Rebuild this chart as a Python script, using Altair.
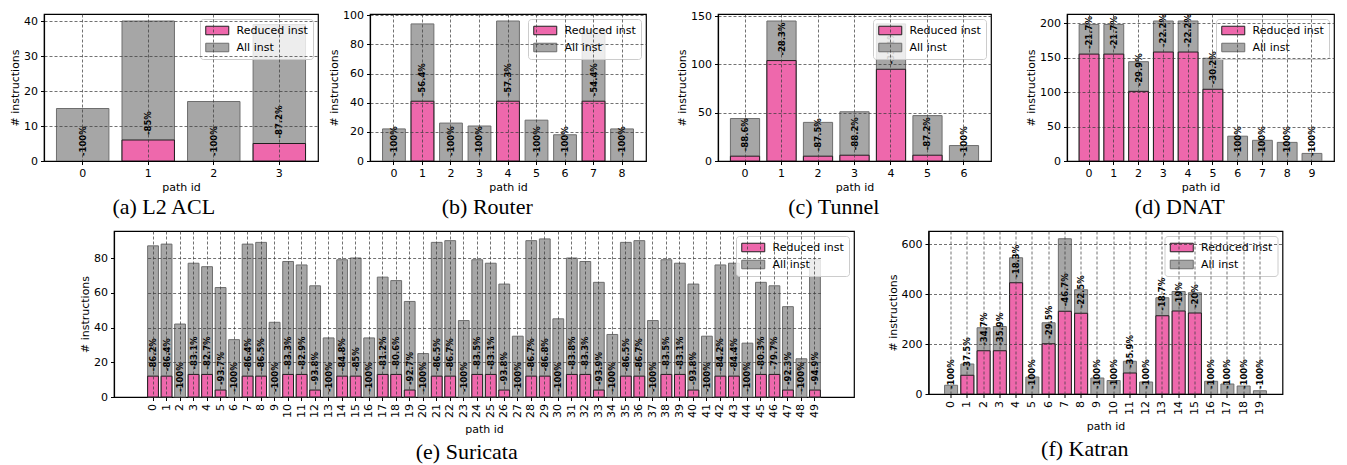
import altair as alt
import pandas as pd

# ---------------- data ----------------
captions = ["(a) L2 ACL", "(b) Router", "(c) Tunnel", "(d) DNAT", "(e) Suricata", "(f) Katran"]
series_names = ["Reduced inst", "All inst"]

l2acl_all = [15, 40, 17, 39]
l2acl_reduced = [0, 6, 0, 5]

router_all = [22, 94, 26, 24, 96, 28, 18, 90, 22]
router_reduced = [0, 41, 0, 0, 41, 0, 0, 41, 0]

tunnel_all = [44, 145, 40, 51, 142, 47, 16]
tunnel_reduced = [5, 104, 5, 6, 95, 6, 0]

dnat_all = [198, 198, 144, 203, 203, 149, 36, 30, 27, 11]
dnat_reduced = [155, 155, 101, 158, 158, 104, 0, 0, 0, 0]

suricata_all = [87, 88, 42, 77, 75, 63, 33, 88, 89, 43,
                78, 76, 64, 34, 79, 80, 34, 69, 67, 55,
                25, 89, 90, 44, 79, 77, 65, 35, 90, 91,
                45, 80, 78, 66, 36, 89, 90, 44, 79, 77,
                65, 35, 76, 77, 31, 66, 64, 52, 22, 79]
suricata_reduced = [12, 12, 0, 13, 13, 4, 0, 12, 12, 0,
                    13, 13, 4, 0, 12, 12, 0, 13, 13, 4,
                    0, 12, 12, 0, 13, 13, 4, 0, 12, 12,
                    0, 13, 13, 4, 0, 12, 12, 0, 13, 13,
                    4, 0, 12, 12, 0, 13, 13, 4, 0, 4]

katran_all = [35, 120, 265, 270, 545, 68, 285, 621, 417, 64,
              54, 131, 48, 385, 410, 405, 51, 40, 32, 13]
katran_reduced = [0, 75, 173, 173, 445, 0, 201, 331, 323, 0,
                  0, 84, 0, 313, 332, 324, 0, 0, 0, 0]

l2acl_yticks = [0, 10, 20, 30, 40]
router_yticks = [0, 20, 40, 60, 80, 100]
tunnel_yticks = [0, 50, 100, 150]
dnat_yticks = [0, 50, 100, 150, 200]
suricata_yticks = [0, 20, 40, 60, 80]
katran_yticks = [0, 200, 400, 600]

# ---------------- style ----------------
PINK = "#EE68AC"
GREY = "#A6A6A6"
FONT = "DejaVu Sans"
BAR_FRACTION = 0.8


def pct_label(a, r):
    p = round((a - r) / a * 100, 1)
    return f"-{int(p)}%" if p == int(p) else f"-{p:.1f}%"


def panel(all_v, red_v, caption, yticks, w, h, rotate):
    n = len(all_v)
    ids = list(range(n))
    rows = [{"id": i, "series": "All inst", "value": a, "z": 0} for i, a in enumerate(all_v)]
    rows += [{"id": i, "series": "Reduced inst", "value": r, "z": 1}
             for i, r in enumerate(red_v) if r > 0]
    bars_df = pd.DataFrame(rows)
    lab_df = pd.DataFrame({"id": ids, "red": red_v,
                           "label": [pct_label(a, r) for a, r in zip(all_v, red_v)]})

    # matplotlib-like margins: 5% of the data span on each side
    pin = 1 - BAR_FRACTION
    pout = 0.05 * (n - pin)
    if pout <= 1:
        xscale = alt.Scale(domain=ids, paddingInner=pin, paddingOuter=pout)
    else:
        step = w / (n - pin + 2 * pout)
        xscale = alt.Scale(domain=ids, paddingInner=pin, paddingOuter=0,
                           range=[step * pout, w - step * pout])
    xaxis = alt.Axis(title="path id", labelAngle=270 if rotate else 0, grid=True,
                     labelOverlap=False, zindex=1, domain=pout <= 1,
                     titlePadding=6 if rotate else 3)
    yscale = alt.Scale(domain=[0, max(all_v) * 1.05], nice=False)
    yaxis = alt.Axis(title="# instructions", values=yticks, grid=True, zindex=1)

    leg = alt.Legend(title=None, orient="top-right", offset=5, padding=5,
                     fillColor="rgba(255,255,255,0.8)", strokeColor="#cccccc",
                     cornerRadius=3, labelFont=FONT, labelFontSize=11, labelColor="black",
                     symbolType="M-1,-0.74H3V0.74H-1Z", symbolSize=132.25,
                     symbolStrokeWidth=1, labelOffset=18.5, rowPadding=4, symbolOpacity=1)

    bars = alt.Chart(bars_df).mark_bar(strokeWidth=1, opacity=1).encode(
        x=alt.X("id:O", scale=xscale, axis=xaxis),
        y=alt.Y("value:Q", scale=yscale, axis=yaxis, stack=None),
        fill=alt.Fill("series:N", scale=alt.Scale(domain=series_names, range=[PINK, GREY]),
                      legend=leg),
        stroke=alt.Stroke("series:N", scale=alt.Scale(domain=series_names, range=["#1e1e1e", "#6e6e6e"]),
                          legend=leg),
        order=alt.Order("z:Q"),
    )
    text = alt.Chart(lab_df).mark_text(angle=270, align="left", baseline="middle", dx=5,
                                       font=FONT, fontSize=8.5, fontWeight="bold",
                                       color="black").encode(
        x=alt.X("id:O", scale=xscale, axis=xaxis),
        y=alt.Y("red:Q", scale=yscale, axis=yaxis),
        text="label:N",
    )
    return alt.layer(bars, text).properties(
        width=w, height=h,
        title=alt.TitleParams(caption, orient="bottom", anchor="middle", frame="bounds",
                              font="Liberation Serif", fontSize=22, fontWeight="normal",
                              color="black", offset=8 if rotate else 4),
    )


def indep(c):
    return c.resolve_scale(fill="independent", stroke="independent").resolve_legend(
        fill="independent", stroke="independent")


def hcat(*charts, spacing):
    return indep(alt.concat(*charts, columns=len(charts), spacing=spacing, align="each"))


TOP_H = 147
pa = panel(l2acl_all, l2acl_reduced, captions[0], l2acl_yticks, 274, TOP_H, False)
pb = panel(router_all, router_reduced, captions[1], router_yticks, 276, TOP_H, False)
pc = panel(tunnel_all, tunnel_reduced, captions[2], tunnel_yticks, 273, TOP_H, False)
pd_ = panel(dnat_all, dnat_reduced, captions[3], dnat_yticks, 267, TOP_H, False)
pe = panel(suricata_all, suricata_reduced, captions[4], suricata_yticks, 740, 166, True)
pf = panel(katran_all, katran_reduced, captions[5], katran_yticks, 354, 163, True)

spacer = alt.Chart(pd.DataFrame({"v": [0]})).mark_point(size=0, opacity=0).encode(
    x=alt.value(10), y=alt.value(5)
).properties(width=33.5, height=10, view=alt.ViewBackground(stroke=None))

row1 = hcat(hcat(pa, pb, spacing=8), hcat(pc, pd_, spacing=32), spacing=28)
row2 = hcat(spacer, hcat(pe, pf, spacing=30.5), spacing=0)

chart = indep(alt.concat(row1, row2, columns=1, spacing=11, align="none")).properties(
    padding={"left": 0, "top": 0, "right": 0, "bottom": 0}
).configure_view(stroke="black", strokeWidth=1.2).configure_axis(
    labelFont=FONT, labelFontSize=11, labelColor="black",
    titleFont=FONT, titleFontSize=11, titleFontWeight="normal", titleColor="black",
    tickColor="black", tickSize=3.5, tickWidth=1, labelPadding=3, titlePadding=3,
    domainColor="black", domainWidth=1.2,
    gridColor="#3a3a3a", gridDash=[3, 2], gridWidth=0.8, gridOpacity=0.9,
)

chart.save("out.html", embed_options={"renderer": "svg", "actions": False})
